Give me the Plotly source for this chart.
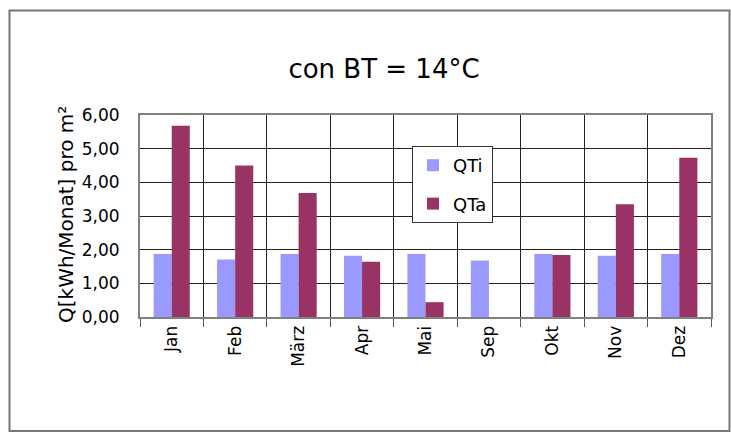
import plotly.graph_objects as go

# Monthly heat figures per m² (kWh/Monat)
months = ["Jan", "Feb", "März", "Apr", "Mai", "Sep", "Okt", "Nov", "Dez"]
qti = [1.87, 1.71, 1.87, 1.82, 1.87, 1.68, 1.87, 1.82, 1.87]
qta = [5.68, 4.50, 3.68, 1.64, 0.44, 0.0, 1.84, 3.35, 4.73]
y_ticks = [0, 1, 2, 3, 4, 5, 6]

W, H = 731, 432
L, R, T, B = 140, 20, 115, 115
pw, ph = W - L - R, H - T - B


def px_x(v):
    return (v - L) / pw


def px_y(v):
    return (H - B - v) / ph


font = "DejaVu Sans, Verdana, sans-serif"

fig = go.Figure()
fig.add_trace(go.Bar(x=months, y=qti, name="QTi", marker_color="#9999FF",
                     marker_line_width=0, legendgroup="a"))
fig.add_trace(go.Bar(x=months, y=qta, name="QTa", marker_color="#993366",
                     marker_line_width=0, legendgroup="b"))

fig.update_layout(
    width=W, height=H,
    margin=dict(l=L, r=R, t=T, b=B),
    paper_bgcolor="white", plot_bgcolor="white",
    separators=",.",
    barmode="group", bargap=0.43, bargroupgap=0,
    font=dict(family=font, size=17, color="black"),
    title=dict(text="con BT = 14°C", x=px_x(384), xanchor="center",
               y=1 - 69 / H, yanchor="middle", xref="paper",
               font=dict(size=26, family=font)),
    showlegend=True,
    legend=dict(x=px_x(412), y=px_y(146), xanchor="left", yanchor="top",
                bordercolor="#333333", borderwidth=1, bgcolor="white",
                font=dict(size=18, family=font), tracegroupgap=12,
                itemwidth=30),
    xaxis=dict(type="category", tickangle=-90, ticks="outside", ticklen=8,
               tickcolor="#555555", tickson="boundaries", showgrid=True,
               gridcolor="#222222", gridwidth=1, showline=True, mirror=True,
               linecolor="#808080", linewidth=2,
               tickfont=dict(size=17, family=font)),
    yaxis=dict(range=[0, 6], tickvals=y_ticks, tickformat=".2f",
               showgrid=True, gridcolor="#222222", gridwidth=1,
               zeroline=False, showline=True, mirror=True,
               linecolor="#808080", linewidth=2, ticks="",
               ticklabelstandoff=15, tickfont=dict(size=17, family=font)),
    annotations=[dict(text="Q[kWh/Monat] pro m²", textangle=-90,
                      x=px_x(66), y=px_y(215), xref="paper", yref="paper",
                      xanchor="center", yanchor="middle",
                      showarrow=False, font=dict(size=20, family=font))],
    shapes=[dict(type="rect", xref="paper", yref="paper",
                 x0=px_x(9.5), x1=px_x(729.5), y0=px_y(431), y1=px_y(10.5),
                 line=dict(color="#777777", width=2), layer="below")],
)

fig.write_html("out.html")
